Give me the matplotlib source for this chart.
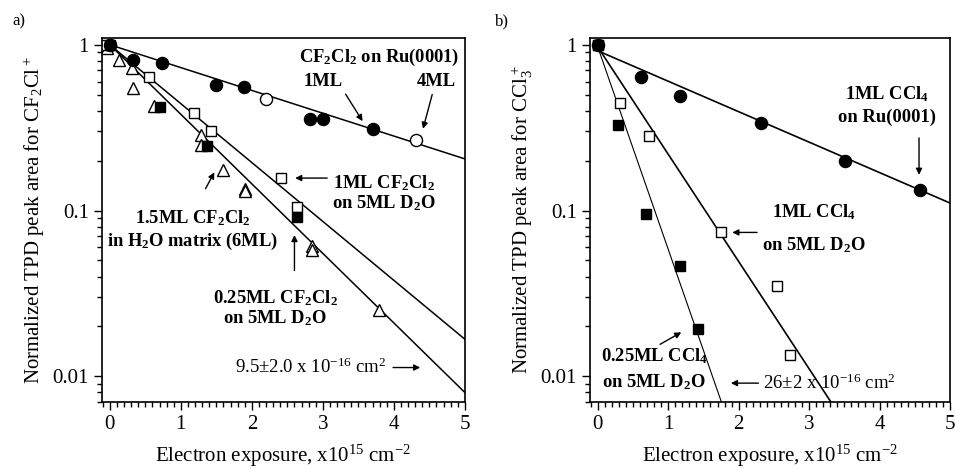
import numpy as np
import matplotlib
matplotlib.use('Agg')
import matplotlib.pyplot as plt
from matplotlib.ticker import MultipleLocator, LogLocator, NullFormatter, FixedLocator, FixedFormatter

plt.rcParams['font.family'] = ['Liberation Serif', 'DejaVu Serif']
plt.rcParams['mathtext.default'] = 'regular'

# panel a: CF2Cl2
a_ru1_x = [0.0, 0.33, 0.74, 1.5, 1.89, 2.82, 3.0, 3.7]
a_ru1_y = [1.0, 0.81, 0.78, 0.57, 0.56, 0.357, 0.357, 0.31]
a_ru4_x = [0.0, 2.2, 4.31]
a_ru4_y = [1.0, 0.47, 0.267]
a_d2o1_x = [-0.05, 0.55, 1.18, 1.42, 2.41, 2.63]
a_d2o1_y = [1.0, 0.64, 0.39, 0.30, 0.157, 0.105]
a_d2o25_x = [0.0, 0.71, 1.37, 2.63]
a_d2o25_y = [1.0, 0.42, 0.245, 0.091]
a_h2o_x = [-0.04, 0.13, 0.31, 0.33, 0.62, 1.29, 1.29, 1.6, 1.91, 1.91, 2.85, 2.85, 3.79]
a_h2o_y = [0.96, 0.81, 0.72, 0.55, 0.43, 0.285, 0.25, 0.176, 0.134, 0.131, 0.061, 0.058, 0.025]
a_fit_k = [0.317, 0.818, 0.966]   # per 1e15 cm-2
a_fit_y0 = [1.0, 1.0, 1.0]

# panel b: CCl4
b_ru_x = [0.0, 0.61, 1.17, 2.32, 3.51, 4.58]
b_ru_y = [1.0, 0.64, 0.49, 0.338, 0.20, 0.133]
b_d2o1_x = [0.0, 0.32, 0.73, 1.75, 2.55, 2.73]
b_d2o1_y = [1.0, 0.445, 0.283, 0.0738, 0.035, 0.0134]
b_d2o25_x = [0.0, 0.29, 0.69, 1.17, 1.42]
b_d2o25_y = [1.0, 0.328, 0.095, 0.0464, 0.0192]
b_fit_k = [0.423, 1.49, 2.81]
b_fit_y0 = [0.92, 0.97, 0.97]
b_fit_lw = [1.2, 1.2, 0.8]

fig = plt.figure(figsize=(9.55, 4.68), dpi=100)
axa = fig.add_axes([0.1068, 0.141, 0.380, 0.778])
axb = fig.add_axes([0.6178, 0.141, 0.377, 0.778])

ms = 8.7
bold = dict(fontsize=13.3, fontweight='bold', ha='center', va='center')
arr = dict(arrowstyle='-|>', color='k', lw=1.0, mutation_scale=9)


def style(ax, ylab):
    ax.set_yscale('log')
    ax.set_xlim(-0.11, 5)
    ax.set_ylim(0.0070, 1.1)
    ax.xaxis.set_major_locator(MultipleLocator(1))
    ax.xaxis.set_minor_locator(MultipleLocator(0.1))
    ax.yaxis.set_major_locator(FixedLocator([0.01, 0.1, 1]))
    ax.yaxis.set_major_formatter(FixedFormatter(['0.01', '0.1', '1']))
    ax.yaxis.set_minor_locator(LogLocator(base=10, subs=np.arange(2, 10)))
    ax.yaxis.set_minor_formatter(NullFormatter())
    ax.tick_params(which='major', direction='out', length=6, width=1.0, labelsize=15)
    ax.tick_params(which='minor', direction='out', length=3.5, width=1.0)
    for s in ax.spines.values():
        s.set_linewidth(1.2)
    ax.set_xlabel('Electron exposure, x10$^{15}$ cm$^{-2}$', fontsize=15, labelpad=6)
    ax.set_ylabel(ylab, fontsize=15, labelpad=4)


# ---- panel a
xx = np.linspace(0, 5, 200)
for k, y0 in zip(a_fit_k, a_fit_y0):
    axa.plot(xx, y0 * np.exp(-k * xx), color='k', lw=1.1)
axa.plot(a_ru4_x, a_ru4_y, 'o', mfc='white', mec='k', ms=ms, mew=1.0, ls='none')
axa.plot(a_h2o_x, a_h2o_y, '^', mfc='white', mec='k', ms=ms, mew=1.0, ls='none')
axa.plot(a_d2o1_x, a_d2o1_y, 's', mfc='white', mec='k', ms=7.5, mew=1.0, ls='none')
axa.plot(a_d2o25_x, a_d2o25_y, 's', mfc='k', mec='k', ms=7.5, ls='none')
axa.plot(a_ru1_x, a_ru1_y, 'o', mfc='k', mec='k', ms=ms, ls='none')
style(axa, 'Normalized TPD peak area for CF$_2$Cl$^+$')

axa.text(3.79, 0.84, 'CF$_2$Cl$_2$ on Ru(0001)', **bold)
axa.text(3.0, 0.60, '1ML', **bold)
axa.text(4.6, 0.60, '4ML', **bold)
axa.annotate('', xy=(3.58, 0.335), xytext=(3.3, 0.52), arrowprops=arr)
axa.annotate('', xy=(4.4, 0.30), xytext=(4.55, 0.52), arrowprops=arr)
axa.text(3.86, 0.147, '1ML CF$_2$Cl$_2$', **bold)
axa.text(3.86, 0.111, 'on 5ML D$_2$O', **bold)
axa.annotate('', xy=(2.57, 0.157), xytext=(3.1, 0.157), arrowprops=arr)
axa.text(1.17, 0.090, '1.5ML CF$_2$Cl$_2$', **bold)
axa.text(1.17, 0.0655, 'in H$_2$O matrix (6ML)', **bold)
axa.annotate('', xy=(1.49, 0.176), xytext=(1.33, 0.131), arrowprops=arr)
axa.text(2.33, 0.0296, '0.25ML CF$_2$Cl$_2$', **bold)
axa.text(2.33, 0.0224, 'on 5ML D$_2$O', **bold)
axa.annotate('', xy=(2.6, 0.074), xytext=(2.6, 0.0418), arrowprops=arr)
axa.text(2.83, 0.0113, '9.5$\\pm$2.0 x 10$^{-16}$ cm$^2$', fontsize=13.5, ha='center', va='center')
axa.annotate('', xy=(4.41, 0.0113), xytext=(3.95, 0.0113), arrowprops=arr)

# ---- panel b
for k, y0, lw in zip(b_fit_k, b_fit_y0, b_fit_lw):
    axb.plot(xx, y0 * np.exp(-k * xx), color='k', lw=lw)
axb.plot(b_d2o1_x, b_d2o1_y, 's', mfc='white', mec='k', ms=7.5, mew=1.0, ls='none')
axb.plot(b_d2o25_x, b_d2o25_y, 's', mfc='k', mec='k', ms=7.5, ls='none')
axb.plot(b_ru_x, b_ru_y, 'o', mfc='k', mec='k', ms=ms, ls='none')
style(axb, 'Normalized TPD peak area for CCl$_3^+$')

axb.text(4.1, 0.505, '1ML CCl$_4$', **bold)
axb.text(4.1, 0.367, 'on Ru(0001)', **bold)
axb.annotate('', xy=(4.56, 0.158), xytext=(4.56, 0.285), arrowprops=arr)
axb.text(3.07, 0.098, '1ML CCl$_4$', **bold)
axb.text(3.07, 0.062, 'on 5ML D$_2$O', **bold)
axb.annotate('', xy=(1.87, 0.0738), xytext=(2.3, 0.0738), arrowprops=arr)
axb.text(0.80, 0.0132, '0.25ML CCl$_4$', **bold)
axb.text(0.80, 0.0092, 'on 5ML D$_2$O', **bold)
axb.annotate('', xy=(1.22, 0.0188), xytext=(0.85, 0.0153), arrowprops=arr)
axb.text(3.28, 0.0091, '26$\\pm$2 x 10$^{-16}$ cm$^2$', fontsize=13.5, ha='center', va='center')
axb.annotate('', xy=(1.85, 0.0091), xytext=(2.32, 0.0091), arrowprops=arr)

fig.text(0.013, 0.955, 'a)', fontsize=12, ha='left', va='center')
fig.text(0.518, 0.955, 'b)', fontsize=12, ha='left', va='center')

fig.savefig('out.png', dpi=100)
